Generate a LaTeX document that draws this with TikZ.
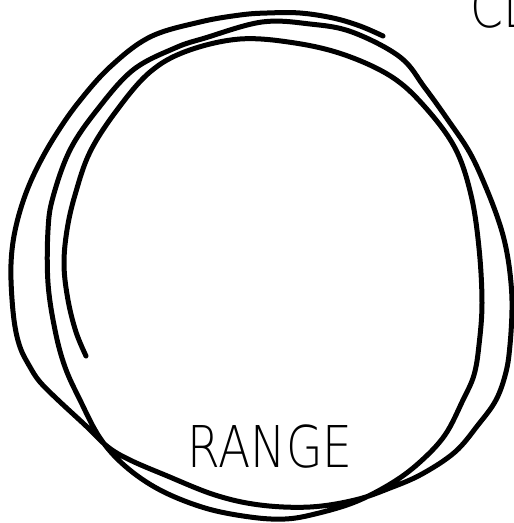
\documentclass[tikz,border=0pt]{standalone}
\usepackage{fontspec}
\newfontfamily\handfont{DejaVu Sans ExtraLight}
\begin{document}
\begin{tikzpicture}[x=1pt,y=-1pt,
  scribble/.style={line width=5pt,line cap=round,line join=round,black},
  lettering/.style={font=\handfont\fontsize{57.6}{60}\selectfont,inner sep=0pt,xscale=0.82}]
\useasboundingbox (0,0) rectangle (514,523);
\clip (0,0) rectangle (514,523);
\fill[white] (0,0) rectangle (514,523);
\draw[scribble] plot[smooth,tension=0.6] coordinates {
 (86,356) (76,332) (68,300) (64,265) (67,230) (75,195) (90,152) (117,110)
 (150,72) (187,51) (240,39) (295,43) (345,55) (392,77) (425,107)
 (455,148) (471,195) (479,248) (482,303) (479,345) (474,375) (463,400)
 (445,435) (420,462) (392,483) (355,502) (315,514) (285,519) (250,517)
 (205,508) (160,490) (125,466) (100,438) (80,400) (65,367) (55,330)
 (48,283) (48,230) (53,197) (70,150) (97,110) (133,70) (175,48)
 (205,38) (262,22) (310,24) (352,32) (400,57) (425,88) (448,120) (470,153)
 (487,190) (500,225) (507,253) (511,283) (512,310) (510,345) (506,372) (496,400)
 (478,425) (455,452) (422,474) (390,488) (355,500) (310,507) (260,505) (215,495)
 (165,475) (130,460) (108,447) (85,425) (58,400) (40,382) (30,367)
 (20,347) (14,320) (11,280) (12,250) (17,222) (26,193) (38,166) (55,136) (78,103)
 (110,67) (150,37) (200,22) (240,15) (267,13) (300,13) (333,18) (360,26) (383,36)};
\node[lettering,anchor=base] (range) at (270,467) {RANGE};
\node[lettering,anchor=base west] (cl) at (470,27) {CL};
\end{tikzpicture}
\end{document}
